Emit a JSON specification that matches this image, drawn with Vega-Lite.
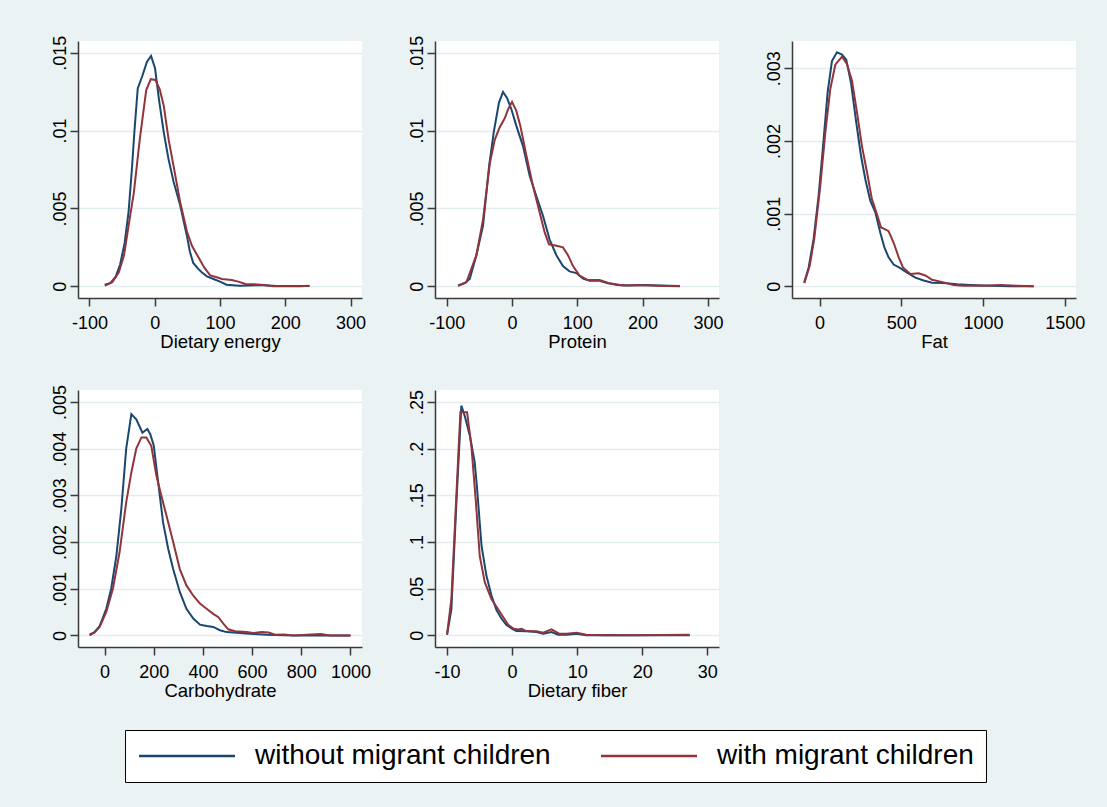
{
  "$schema": "https://vega.github.io/schema/vega-lite/v6.json",
  "background": "#eaf2f3",
  "padding": {"left": 50, "top": 35, "right": 22, "bottom": 26},
  "bounds": "flush",
  "columns": 3,
  "spacing": {"row": 92, "column": 73},
  "resolve": {"scale": {"x": "independent", "y": "independent", "color": "shared"}, "axis": {"x": "independent", "y": "independent"}},
  "config": {
    "font": "Liberation Sans",
    "view": {"fill": "white", "stroke": null},
    "axis": {"domainColor": "#3a3a3a", "tickColor": "#3a3a3a", "domainWidth": 1.5, "tickWidth": 1.5, "tickSize": 8, "labelColor": "#000", "titleColor": "#000", "labelFont": "Liberation Sans", "titleFont": "Liberation Sans", "labelFontSize": 18, "titleFontSize": 18.5, "titleFontWeight": "normal", "labelOverlap": false, "labelFlush": false, "gridColor": "#e3ecee", "gridWidth": 1.5},
    "axisX": {"grid": false, "labelPadding": 8, "titlePadding": 0, "labelExpr": "toString(datum.value)"},
    "axisY": {"grid": true, "labelAngle": 270, "labelAlign": "center", "labelBaseline": "alphabetic", "labelPadding": 5, "labelExpr": "datum.value == 0 ? '0' : slice(toString(datum.value), 1)"}
  },
  "data": {"values": [
    {"p":"E","g":"without","x":-76.5,"y":0.0001},{"p":"E","g":"without","x":-68,"y":0.0002},{"p":"E","g":"without","x":-60,"y":0.0006},{"p":"E","g":"without","x":-53,"y":0.0014},{"p":"E","g":"without","x":-46,"y":0.0028},{"p":"E","g":"without","x":-40,"y":0.0048},{"p":"E","g":"without","x":-35,"y":0.0075},{"p":"E","g":"without","x":-31,"y":0.01},{"p":"E","g":"without","x":-26,"y":0.0127},{"p":"E","g":"without","x":-19,"y":0.0135},{"p":"E","g":"without","x":-12,"y":0.0144},{"p":"E","g":"without","x":-5.6,"y":0.01479},{"p":"E","g":"without","x":0.5,"y":0.014},{"p":"E","g":"without","x":6.5,"y":0.012},{"p":"E","g":"without","x":13.8,"y":0.0099},{"p":"E","g":"without","x":21,"y":0.0082},{"p":"E","g":"without","x":29,"y":0.0067},{"p":"E","g":"without","x":39,"y":0.0052},{"p":"E","g":"without","x":49,"y":0.0033},{"p":"E","g":"without","x":54,"y":0.0022},{"p":"E","g":"without","x":59,"y":0.0015},{"p":"E","g":"without","x":66,"y":0.00115},{"p":"E","g":"without","x":72,"y":0.0009},{"p":"E","g":"without","x":80,"y":0.00064},{"p":"E","g":"without","x":90,"y":0.00047},{"p":"E","g":"without","x":100,"y":0.0003},{"p":"E","g":"without","x":110,"y":0.0001},{"p":"E","g":"without","x":130,"y":0.00004},{"p":"E","g":"without","x":160,"y":0.00008},{"p":"E","g":"without","x":187,"y":0.00002},{"p":"E","g":"without","x":237,"y":0.00002},
    {"p":"E","g":"with","x":-76.5,"y":0.00004},{"p":"E","g":"with","x":-65,"y":0.00026},{"p":"E","g":"with","x":-55,"y":0.0009},{"p":"E","g":"with","x":-47,"y":0.002},{"p":"E","g":"with","x":-40,"y":0.0039},{"p":"E","g":"with","x":-32,"y":0.006},{"p":"E","g":"with","x":-23,"y":0.0094},{"p":"E","g":"with","x":-13,"y":0.0126},{"p":"E","g":"with","x":-6,"y":0.0133},{"p":"E","g":"with","x":1,"y":0.01325},{"p":"E","g":"with","x":7.7,"y":0.01265},{"p":"E","g":"with","x":13.8,"y":0.0116},{"p":"E","g":"with","x":21.4,"y":0.0094},{"p":"E","g":"with","x":29,"y":0.0077},{"p":"E","g":"with","x":39,"y":0.0054},{"p":"E","g":"with","x":49.5,"y":0.0035},{"p":"E","g":"with","x":57,"y":0.0026},{"p":"E","g":"with","x":67,"y":0.00186},{"p":"E","g":"with","x":76,"y":0.0012},{"p":"E","g":"with","x":85,"y":0.0007},{"p":"E","g":"with","x":95,"y":0.00058},{"p":"E","g":"with","x":103,"y":0.00047},{"p":"E","g":"with","x":118,"y":0.0004},{"p":"E","g":"with","x":128,"y":0.0003},{"p":"E","g":"with","x":139,"y":0.00015},{"p":"E","g":"with","x":151,"y":0.00013},{"p":"E","g":"with","x":167,"y":0.00009},{"p":"E","g":"with","x":182,"y":0},{"p":"E","g":"with","x":223,"y":0},{"p":"E","g":"with","x":237,"y":0.00004},
    {"p":"P","g":"without","x":-82.7,"y":0.00004},{"p":"P","g":"without","x":-72.4,"y":0.0002},{"p":"P","g":"without","x":-64.8,"y":0.00047},{"p":"P","g":"without","x":-54.6,"y":0.002},{"p":"P","g":"without","x":-44.4,"y":0.0039},{"p":"P","g":"without","x":-35.2,"y":0.0077},{"p":"P","g":"without","x":-28,"y":0.0099},{"p":"P","g":"without","x":-20,"y":0.0118},{"p":"P","g":"without","x":-13.8,"y":0.01248},{"p":"P","g":"without","x":-7.7,"y":0.0121},{"p":"P","g":"without","x":-1,"y":0.01137},{"p":"P","g":"without","x":6.6,"y":0.0103},{"p":"P","g":"without","x":16.8,"y":0.009},{"p":"P","g":"without","x":27,"y":0.0071},{"p":"P","g":"without","x":37.2,"y":0.0058},{"p":"P","g":"without","x":47.4,"y":0.00453},{"p":"P","g":"without","x":57.6,"y":0.003},{"p":"P","g":"without","x":67.9,"y":0.002},{"p":"P","g":"without","x":78,"y":0.0013},{"p":"P","g":"without","x":88,"y":0.00096},{"p":"P","g":"without","x":98.5,"y":0.00085},{"p":"P","g":"without","x":108.7,"y":0.0005},{"p":"P","g":"without","x":119,"y":0.00036},{"p":"P","g":"without","x":134,"y":0.00036},{"p":"P","g":"without","x":147,"y":0.0002},{"p":"P","g":"without","x":162,"y":0.00009},{"p":"P","g":"without","x":180,"y":0.00006},{"p":"P","g":"without","x":200,"y":0.00009},{"p":"P","g":"without","x":226,"y":0.00006},{"p":"P","g":"without","x":257,"y":0.00002},
    {"p":"P","g":"with","x":-82.7,"y":0.00004},{"p":"P","g":"with","x":-70,"y":0.00026},{"p":"P","g":"with","x":-54.6,"y":0.002},{"p":"P","g":"with","x":-44.4,"y":0.0043},{"p":"P","g":"with","x":-34,"y":0.0079},{"p":"P","g":"with","x":-26.5,"y":0.0094},{"p":"P","g":"with","x":-19,"y":0.0102},{"p":"P","g":"with","x":-11,"y":0.0108},{"p":"P","g":"with","x":-6,"y":0.01137},{"p":"P","g":"with","x":0,"y":0.01184},{"p":"P","g":"with","x":6.6,"y":0.01126},{"p":"P","g":"with","x":12.7,"y":0.0103},{"p":"P","g":"with","x":22,"y":0.0084},{"p":"P","g":"with","x":32,"y":0.00645},{"p":"P","g":"with","x":42.3,"y":0.00474},{"p":"P","g":"with","x":50,"y":0.00346},{"p":"P","g":"with","x":56.6,"y":0.0027},{"p":"P","g":"with","x":68,"y":0.0026},{"p":"P","g":"with","x":78,"y":0.0025},{"p":"P","g":"with","x":85.7,"y":0.002},{"p":"P","g":"with","x":93.4,"y":0.0013},{"p":"P","g":"with","x":103.6,"y":0.00068},{"p":"P","g":"with","x":116,"y":0.0004},{"p":"P","g":"with","x":134,"y":0.0004},{"p":"P","g":"with","x":149.5,"y":0.00019},{"p":"P","g":"with","x":170,"y":0.00006},{"p":"P","g":"with","x":195,"y":0.00009},{"p":"P","g":"with","x":221,"y":0.00004},{"p":"P","g":"with","x":257,"y":0},
    {"p":"F","g":"without","x":-94,"y":0.000055},{"p":"F","g":"without","x":-67,"y":0.00026},{"p":"F","g":"without","x":-37,"y":0.00065},{"p":"F","g":"without","x":-6,"y":0.00125},{"p":"F","g":"without","x":24.5,"y":0.00202},{"p":"F","g":"without","x":49,"y":0.00267},{"p":"F","g":"without","x":75.5,"y":0.0031},{"p":"F","g":"without","x":106,"y":0.00322},{"p":"F","g":"without","x":137,"y":0.00319},{"p":"F","g":"without","x":163,"y":0.00312},{"p":"F","g":"without","x":192,"y":0.0028},{"p":"F","g":"without","x":224.5,"y":0.00225},{"p":"F","g":"without","x":253,"y":0.0018},{"p":"F","g":"without","x":280,"y":0.00147},{"p":"F","g":"without","x":310,"y":0.00118},{"p":"F","g":"without","x":341,"y":0.00102},{"p":"F","g":"without","x":371,"y":0.00074},{"p":"F","g":"without","x":396,"y":0.00054},{"p":"F","g":"without","x":422,"y":0.0004},{"p":"F","g":"without","x":453,"y":0.0003},{"p":"F","g":"without","x":494,"y":0.00025},{"p":"F","g":"without","x":535,"y":0.00019},{"p":"F","g":"without","x":586,"y":0.00012},{"p":"F","g":"without","x":637,"y":0.00008},{"p":"F","g":"without","x":688,"y":0.00005},{"p":"F","g":"without","x":759,"y":0.000045},{"p":"F","g":"without","x":841,"y":0.00003},{"p":"F","g":"without","x":922,"y":0.00002},{"p":"F","g":"without","x":1045,"y":0.00001},{"p":"F","g":"without","x":1167,"y":0},{"p":"F","g":"without","x":1310,"y":0},
    {"p":"F","g":"with","x":-94,"y":0.000045},{"p":"F","g":"with","x":-61,"y":0.00028},{"p":"F","g":"with","x":-33,"y":0.00065},{"p":"F","g":"with","x":4,"y":0.00138},{"p":"F","g":"with","x":35,"y":0.00212},{"p":"F","g":"with","x":65,"y":0.00271},{"p":"F","g":"with","x":96,"y":0.00305},{"p":"F","g":"with","x":137,"y":0.00316},{"p":"F","g":"with","x":167,"y":0.00306},{"p":"F","g":"with","x":198,"y":0.00283},{"p":"F","g":"with","x":229,"y":0.00239},{"p":"F","g":"with","x":259,"y":0.00193},{"p":"F","g":"with","x":290,"y":0.00157},{"p":"F","g":"with","x":320,"y":0.0012},{"p":"F","g":"with","x":351,"y":0.00099},{"p":"F","g":"with","x":376,"y":0.00081},{"p":"F","g":"with","x":396,"y":0.00079},{"p":"F","g":"with","x":422,"y":0.00076},{"p":"F","g":"with","x":453,"y":0.0006},{"p":"F","g":"with","x":484,"y":0.0004},{"p":"F","g":"with","x":510,"y":0.00026},{"p":"F","g":"with","x":555,"y":0.00017},{"p":"F","g":"with","x":606,"y":0.00018},{"p":"F","g":"with","x":647,"y":0.00015},{"p":"F","g":"with","x":688,"y":0.00009},{"p":"F","g":"with","x":759,"y":0.000055},{"p":"F","g":"with","x":820,"y":0.00002},{"p":"F","g":"with","x":882,"y":0.00001},{"p":"F","g":"with","x":1004,"y":0.00001},{"p":"F","g":"with","x":1106,"y":0.00002},{"p":"F","g":"with","x":1208,"y":0.00001},{"p":"F","g":"with","x":1310,"y":0},
    {"p":"C","g":"without","x":-61,"y":0.000014},{"p":"C","g":"without","x":-41,"y":0.00007},{"p":"C","g":"without","x":-20,"y":0.0002},{"p":"C","g":"without","x":7,"y":0.00057},{"p":"C","g":"without","x":27,"y":0.001},{"p":"C","g":"without","x":48,"y":0.0017},{"p":"C","g":"without","x":68,"y":0.0027},{"p":"C","g":"without","x":88,"y":0.004},{"p":"C","g":"without","x":109,"y":0.00474},{"p":"C","g":"without","x":129,"y":0.00463},{"p":"C","g":"without","x":154,"y":0.00434},{"p":"C","g":"without","x":174,"y":0.00442},{"p":"C","g":"without","x":186,"y":0.00431},{"p":"C","g":"without","x":200,"y":0.00407},{"p":"C","g":"without","x":218,"y":0.00328},{"p":"C","g":"without","x":238,"y":0.00242},{"p":"C","g":"without","x":259,"y":0.00185},{"p":"C","g":"without","x":279,"y":0.00142},{"p":"C","g":"without","x":306,"y":0.00093},{"p":"C","g":"without","x":333,"y":0.00057},{"p":"C","g":"without","x":361,"y":0.00036},{"p":"C","g":"without","x":388,"y":0.00023},{"p":"C","g":"without","x":415,"y":0.0002},{"p":"C","g":"without","x":442,"y":0.00018},{"p":"C","g":"without","x":469,"y":0.00011},{"p":"C","g":"without","x":497,"y":0.00007},{"p":"C","g":"without","x":551,"y":0.00005},{"p":"C","g":"without","x":605,"y":0.00003},{"p":"C","g":"without","x":660,"y":0.000014},{"p":"C","g":"without","x":769,"y":0},{"p":"C","g":"without","x":864,"y":0},{"p":"C","g":"without","x":1000,"y":0},
    {"p":"C","g":"with","x":-61,"y":0},{"p":"C","g":"with","x":-41,"y":0.00006},{"p":"C","g":"with","x":-20,"y":0.00018},{"p":"C","g":"with","x":7,"y":0.0005},{"p":"C","g":"with","x":34,"y":0.001},{"p":"C","g":"with","x":61,"y":0.00178},{"p":"C","g":"with","x":88,"y":0.00285},{"p":"C","g":"with","x":109,"y":0.00349},{"p":"C","g":"with","x":129,"y":0.004},{"p":"C","g":"with","x":150,"y":0.00424},{"p":"C","g":"with","x":170,"y":0.00424},{"p":"C","g":"with","x":190,"y":0.00406},{"p":"C","g":"with","x":211,"y":0.00342},{"p":"C","g":"with","x":231,"y":0.00299},{"p":"C","g":"with","x":252,"y":0.00256},{"p":"C","g":"with","x":279,"y":0.002},{"p":"C","g":"with","x":306,"y":0.00142},{"p":"C","g":"with","x":333,"y":0.00107},{"p":"C","g":"with","x":361,"y":0.00085},{"p":"C","g":"with","x":388,"y":0.00068},{"p":"C","g":"with","x":415,"y":0.00057},{"p":"C","g":"with","x":442,"y":0.00046},{"p":"C","g":"with","x":463,"y":0.00039},{"p":"C","g":"with","x":483,"y":0.00025},{"p":"C","g":"with","x":503,"y":0.00013},{"p":"C","g":"with","x":531,"y":0.00009},{"p":"C","g":"with","x":578,"y":0.00007},{"p":"C","g":"with","x":605,"y":0.00005},{"p":"C","g":"with","x":639,"y":0.00007},{"p":"C","g":"with","x":667,"y":0.00006},{"p":"C","g":"with","x":694,"y":0.000014},{"p":"C","g":"with","x":728,"y":0.00002},{"p":"C","g":"with","x":769,"y":0},{"p":"C","g":"with","x":823,"y":0.000014},{"p":"C","g":"with","x":878,"y":0.00003},{"p":"C","g":"with","x":918,"y":0},{"p":"C","g":"with","x":1000,"y":0},
    {"p":"D","g":"without","x":-10,"y":0.0007},{"p":"D","g":"without","x":-9.33,"y":0.028},{"p":"D","g":"without","x":-8.56,"y":0.142},{"p":"D","g":"without","x":-7.8,"y":0.246},{"p":"D","g":"without","x":-7.28,"y":0.235},{"p":"D","g":"without","x":-6.5,"y":0.214},{"p":"D","g":"without","x":-5.74,"y":0.185},{"p":"D","g":"without","x":-5.38,"y":0.157},{"p":"D","g":"without","x":-4.7,"y":0.096},{"p":"D","g":"without","x":-3.95,"y":0.064},{"p":"D","g":"without","x":-3.18,"y":0.043},{"p":"D","g":"without","x":-2.4,"y":0.027},{"p":"D","g":"without","x":-1.64,"y":0.018},{"p":"D","g":"without","x":-0.87,"y":0.011},{"p":"D","g":"without","x":0.15,"y":0.0064},{"p":"D","g":"without","x":0.67,"y":0.0046},{"p":"D","g":"without","x":2.2,"y":0.0043},{"p":"D","g":"without","x":3.74,"y":0.0036},{"p":"D","g":"without","x":4.77,"y":0.0018},{"p":"D","g":"without","x":6.05,"y":0.0036},{"p":"D","g":"without","x":7.08,"y":0.0007},{"p":"D","g":"without","x":8.36,"y":0.0007},{"p":"D","g":"without","x":9.9,"y":0.0018},{"p":"D","g":"without","x":11.4,"y":0},{"p":"D","g":"without","x":15,"y":0.0004},{"p":"D","g":"without","x":17,"y":0},{"p":"D","g":"without","x":27.3,"y":0},
    {"p":"D","g":"with","x":-10,"y":0.0007},{"p":"D","g":"with","x":-9.33,"y":0.039},{"p":"D","g":"with","x":-8.67,"y":0.135},{"p":"D","g":"with","x":-7.95,"y":0.239},{"p":"D","g":"with","x":-7.44,"y":0.239},{"p":"D","g":"with","x":-6.92,"y":0.239},{"p":"D","g":"with","x":-6.26,"y":0.203},{"p":"D","g":"with","x":-5.6,"y":0.146},{"p":"D","g":"with","x":-4.97,"y":0.085},{"p":"D","g":"with","x":-4.2,"y":0.057},{"p":"D","g":"with","x":-3.18,"y":0.039},{"p":"D","g":"with","x":-2.15,"y":0.028},{"p":"D","g":"with","x":-1.38,"y":0.0196},{"p":"D","g":"with","x":-0.6,"y":0.0114},{"p":"D","g":"with","x":0.26,"y":0.0071},{"p":"D","g":"with","x":0.92,"y":0.0064},{"p":"D","g":"with","x":1.44,"y":0.0071},{"p":"D","g":"with","x":2.2,"y":0.0046},{"p":"D","g":"with","x":3.74,"y":0.0043},{"p":"D","g":"with","x":4.77,"y":0.0028},{"p":"D","g":"with","x":6.05,"y":0.0064},{"p":"D","g":"with","x":7.23,"y":0.0018},{"p":"D","g":"with","x":8.36,"y":0.0018},{"p":"D","g":"with","x":9.9,"y":0.0028},{"p":"D","g":"with","x":11.4,"y":0.0007},{"p":"D","g":"with","x":14,"y":0},{"p":"D","g":"with","x":19.1,"y":0},{"p":"D","g":"with","x":27.3,"y":0.0007}
  ]},
  "concat": [
    {
      "width": 284, "height": 257,
      "transform": [{"filter": "datum.p == 'E'"}],
      "mark": {"type": "line", "strokeWidth": 2},
      "encoding": {
        "x": {"field": "x", "type": "quantitative", "scale": {"domain": [-117.5, 317.5], "nice": false, "zero": false}, "axis": {"values": [-100, 0, 100, 200, 300], "title": "Dietary energy"}},
        "y": {"field": "y", "type": "quantitative", "scale": {"domain": [-0.00075, 0.01575], "nice": false, "zero": false}, "axis": {"values": [0, 0.005, 0.01, 0.015], "title": null}},
        "color": {"field": "g", "type": "nominal", "scale": {"domain": ["without", "with"], "range": ["#1a476f", "#90353b"]}, "legend": {"title": null, "orient": "none", "legendX": 47, "legendY": 689, "direction": "horizontal", "fillColor": "white", "strokeColor": "#000", "padding": 12, "symbolType": "M-1,0H7", "symbolSize": 576, "symbolStrokeWidth": 2.5, "labelFontSize": 28, "labelFont": "Liberation Sans", "labelColor": "#000", "labelOffset": 90, "columnPadding": 45, "labelLimit": 600, "labelExpr": "datum.label + ' migrant children'"}}
      }
    },
    {
      "width": 284, "height": 257,
      "transform": [{"filter": "datum.p == 'P'"}],
      "mark": {"type": "line", "strokeWidth": 2},
      "encoding": {
        "x": {"field": "x", "type": "quantitative", "scale": {"domain": [-118, 317], "nice": false, "zero": false}, "axis": {"values": [-100, 0, 100, 200, 300], "title": "Protein"}},
        "y": {"field": "y", "type": "quantitative", "scale": {"domain": [-0.00075, 0.01575], "nice": false, "zero": false}, "axis": {"values": [0, 0.005, 0.01, 0.015], "title": null}},
        "color": {"field": "g", "type": "nominal", "scale": {"domain": ["without", "with"], "range": ["#1a476f", "#90353b"]}, "legend": {"title": null, "orient": "none", "legendX": 47, "legendY": 689, "direction": "horizontal", "fillColor": "white", "strokeColor": "#000", "padding": 12, "symbolType": "M-1,0H7", "symbolSize": 576, "symbolStrokeWidth": 2.5, "labelFontSize": 28, "labelFont": "Liberation Sans", "labelColor": "#000", "labelOffset": 90, "columnPadding": 45, "labelLimit": 600, "labelExpr": "datum.label + ' migrant children'"}}
      }
    },
    {
      "width": 284, "height": 257,
      "transform": [{"filter": "datum.p == 'F'"}],
      "mark": {"type": "line", "strokeWidth": 2},
      "encoding": {
        "x": {"field": "x", "type": "quantitative", "scale": {"domain": [-169, 1569], "nice": false, "zero": false}, "axis": {"values": [0, 500, 1000, 1500], "title": "Fat"}},
        "y": {"field": "y", "type": "quantitative", "scale": {"domain": [-0.00016, 0.003376], "nice": false, "zero": false}, "axis": {"values": [0, 0.001, 0.002, 0.003], "title": null}},
        "color": {"field": "g", "type": "nominal", "scale": {"domain": ["without", "with"], "range": ["#1a476f", "#90353b"]}, "legend": {"title": null, "orient": "none", "legendX": 47, "legendY": 689, "direction": "horizontal", "fillColor": "white", "strokeColor": "#000", "padding": 12, "symbolType": "M-1,0H7", "symbolSize": 576, "symbolStrokeWidth": 2.5, "labelFontSize": 28, "labelFont": "Liberation Sans", "labelColor": "#000", "labelOffset": 90, "columnPadding": 45, "labelLimit": 600, "labelExpr": "datum.label + ' migrant children'"}}
      }
    },
    {
      "width": 284, "height": 257,
      "transform": [{"filter": "datum.p == 'C'"}],
      "mark": {"type": "line", "strokeWidth": 2},
      "encoding": {
        "x": {"field": "x", "type": "quantitative", "scale": {"domain": [-108, 1047], "nice": false, "zero": false}, "axis": {"values": [0, 200, 400, 600, 800, 1000], "title": "Carbohydrate"}},
        "y": {"field": "y", "type": "quantitative", "scale": {"domain": [-0.000249, 0.005256], "nice": false, "zero": false}, "axis": {"values": [0, 0.001, 0.002, 0.003, 0.004, 0.005], "title": null}},
        "color": {"field": "g", "type": "nominal", "scale": {"domain": ["without", "with"], "range": ["#1a476f", "#90353b"]}, "legend": {"title": null, "orient": "none", "legendX": 47, "legendY": 689, "direction": "horizontal", "fillColor": "white", "strokeColor": "#000", "padding": 12, "symbolType": "M-1,0H7", "symbolSize": 576, "symbolStrokeWidth": 2.5, "labelFontSize": 28, "labelFont": "Liberation Sans", "labelColor": "#000", "labelOffset": 90, "columnPadding": 45, "labelLimit": 600, "labelExpr": "datum.label + ' migrant children'"}}
      }
    },
    {
      "width": 284, "height": 257,
      "transform": [{"filter": "datum.p == 'D'"}],
      "mark": {"type": "line", "strokeWidth": 2},
      "encoding": {
        "x": {"field": "x", "type": "quantitative", "scale": {"domain": [-11.85, 31.8], "nice": false, "zero": false}, "axis": {"values": [-10, 0, 10, 20, 30], "title": "Dietary fiber"}},
        "y": {"field": "y", "type": "quantitative", "scale": {"domain": [-0.01246, 0.2628], "nice": false, "zero": false}, "axis": {"values": [0, 0.05, 0.1, 0.15, 0.2, 0.25], "title": null}},
        "color": {"field": "g", "type": "nominal", "scale": {"domain": ["without", "with"], "range": ["#1a476f", "#90353b"]}, "legend": {"title": null, "orient": "none", "legendX": 47, "legendY": 689, "direction": "horizontal", "fillColor": "white", "strokeColor": "#000", "padding": 12, "symbolType": "M-1,0H7", "symbolSize": 576, "symbolStrokeWidth": 2.5, "labelFontSize": 28, "labelFont": "Liberation Sans", "labelColor": "#000", "labelOffset": 90, "columnPadding": 45, "labelLimit": 600, "labelExpr": "datum.label + ' migrant children'"}}
      }
    }
  ]
}
